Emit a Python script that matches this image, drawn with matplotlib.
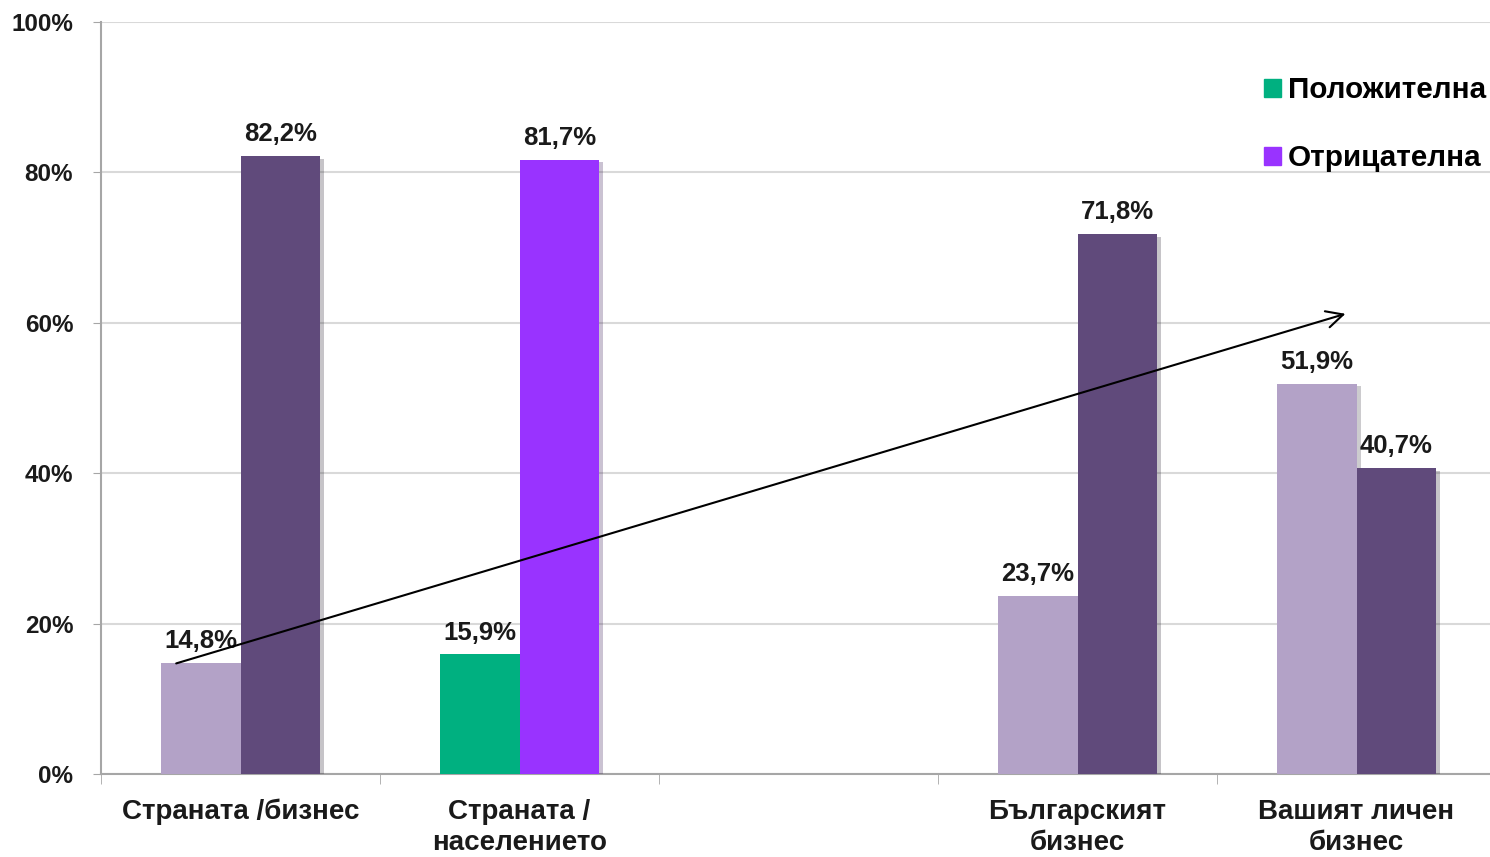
import numpy as np
import matplotlib
matplotlib.use("Agg")
import matplotlib.pyplot as plt
from matplotlib.patches import Patch
import matplotlib.patheffects as pe

plt.rcParams['font.family'] = ['Liberation Sans', 'DejaVu Sans']

categories = ["Страната /бизнес", "Страната /\nнаселението", "", "Българският\nбизнес", "Вашият личен\nбизнес"]
positive = [14.8, 15.9, np.nan, 23.7, 51.9]
negative = [82.2, 81.7, np.nan, 71.8, 40.7]
labels_pos = ["14,8%", "15,9%", "", "23,7%", "51,9%"]
labels_neg = ["82,2%", "81,7%", "", "71,8%", "40,7%"]
legend_labels = ["Положителна", "Отрицателна"]

light = "#B3A2C7"
dark = "#604A7B"
green = "#00B080"
violet = "#9933FF"
pos_colors = [light, green, light, light, light]
neg_colors = [dark, violet, dark, dark, dark]

fig = plt.figure(figsize=(14.9, 8.57), dpi=100)
ax = fig.add_axes([101/1490, 1-774/857, (1496-101)/1490, (774-22)/857])

x = np.arange(len(categories))
w = 0.285
shadow = [pe.SimplePatchShadow(offset=(3, -2), alpha=0.25), pe.Normal()]
b1 = ax.bar(x - w/2, positive, w, color=pos_colors, zorder=3)
b2 = ax.bar(x + w/2, negative, w, color=neg_colors, zorder=3)
for b in list(b1) + list(b2):
    b.set_path_effects(shadow)

for xi, v, t in zip(x, positive, labels_pos):
    if not np.isnan(v):
        ax.annotate(t, (xi - w/2, v), xytext=(0, 7), textcoords="offset points",
                    ha="center", va="bottom", fontsize=18.5, fontweight="bold", color="#1a1a1a", zorder=5)
for xi, v, t in zip(x, negative, labels_neg):
    if not np.isnan(v):
        ax.annotate(t, (xi + w/2, v), xytext=(0, 7), textcoords="offset points",
                    ha="center", va="bottom", fontsize=18.5, fontweight="bold", color="#1a1a1a", zorder=5)

ax.set_xlim(-0.5, 4.5)
ax.set_ylim(0, 100)
ax.set_yticks(np.arange(0, 101, 20))
ax.set_yticklabels([f"{v}%" for v in range(0, 101, 20)], fontsize=17.5, fontweight="bold", color="#1a1a1a")
ax.set_xticks(x)
ax.set_xticklabels(categories, fontsize=20, fontweight="bold", color="#1a1a1a", linespacing=1.25)
ax.tick_params(axis="x", length=0, pad=18)
ax.set_xticks(np.arange(-0.5, 4.6, 1.0), minor=True)
ax.tick_params(axis="x", which="minor", length=7, color="#A6A6A6", direction="out")
ax.tick_params(axis="y", length=6, color="#A6A6A6", pad=14)

ax.yaxis.grid(True, color="#D9D9D9", linewidth=1.5, zorder=0)
ax.set_axisbelow(True)
for s in ["top", "right"]:
    ax.spines[s].set_visible(False)
ax.spines["left"].set_color("#A6A6A6")
ax.spines["bottom"].set_color("#A6A6A6")
ax.spines["left"].set_linewidth(1.5)
ax.spines["bottom"].set_linewidth(1.5)

# trend arrow
ax.annotate("", xy=(3.97, 61.3), xytext=(-0.24, 14.6),
            arrowprops=dict(arrowstyle="->", color="black", lw=1.5, mutation_scale=30), zorder=6)

handles = [Patch(color=green), Patch(color=violet)]
leg = ax.legend(handles, legend_labels, loc="upper right", bbox_to_anchor=(1.012, 0.963),
                frameon=False, prop={"weight": "bold", "size": 21.3},
                handlelength=0.55, handleheight=0.55, handletextpad=0.25, labelspacing=1.35)

fig.savefig("out.png", dpi=100)
